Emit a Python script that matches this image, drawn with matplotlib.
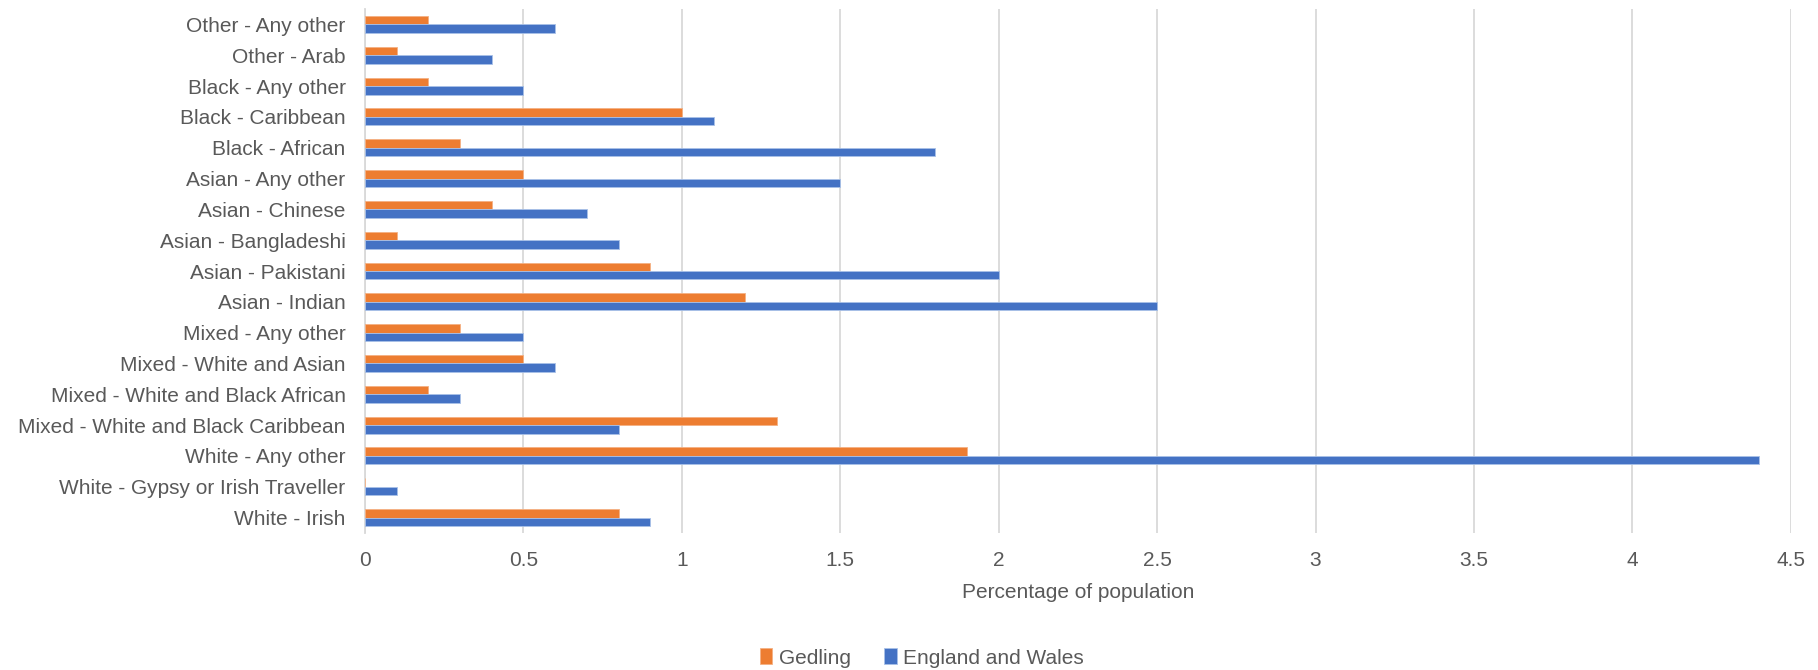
import matplotlib
matplotlib.use("Agg")
import matplotlib.pyplot as plt
import numpy as np

categories = [
    "White - Irish",
    "White - Gypsy or Irish Traveller",
    "White - Any other",
    "Mixed - White and Black Caribbean",
    "Mixed - White and Black African",
    "Mixed - White and Asian",
    "Mixed - Any other",
    "Asian - Indian",
    "Asian - Pakistani",
    "Asian - Bangladeshi",
    "Asian - Chinese",
    "Asian - Any other",
    "Black - African",
    "Black - Caribbean",
    "Black - Any other",
    "Other - Arab",
    "Other - Any other",
]
gedling = [0.8, 0.0, 1.9, 1.3, 0.2, 0.5, 0.3, 1.2, 0.9, 0.1, 0.4, 0.5, 0.3, 1.0, 0.2, 0.1, 0.2]
england_wales = [0.9, 0.1, 4.4, 0.8, 0.3, 0.6, 0.5, 2.5, 2.0, 0.8, 0.7, 1.5, 1.8, 1.1, 0.5, 0.4, 0.6]
xticks = [0, 0.5, 1, 1.5, 2, 2.5, 3, 3.5, 4, 4.5]
xtick_labels = ["0", "0.5", "1", "1.5", "2", "2.5", "3", "3.5", "4", "4.5"]

plt.rcParams['font.family'] = ['Liberation Sans', 'DejaVu Sans']
TXT = "#595959"
FS = 15

fig = plt.figure(figsize=(18.18, 6.70), dpi=100)
ax = fig.add_axes([0.2008, 0.2045, 0.7842, 0.782])

y = np.arange(len(categories))
h = 0.275
ax.barh(y + h / 2, gedling, height=h, color="#ED7D31", edgecolor="#F4B183", linewidth=0.6, label="Gedling", zorder=3)
ax.barh(y - h / 2, england_wales, height=h, color="#4472C4", edgecolor="#A9C1E8", linewidth=0.6, label="England and Wales", zorder=3)

ax.set_xlim(0, 4.5)
ax.set_ylim(-0.5, len(categories) - 0.5)
ax.set_xticks(xticks)
ax.set_xticklabels(xtick_labels)
ax.set_yticks(y)
ax.set_yticklabels(categories)
ax.tick_params(axis="both", length=0, colors=TXT, labelsize=FS)
ax.tick_params(axis="x", pad=13)
ax.tick_params(axis="y", pad=14)
ax.grid(axis="x", color="#D9D9D9", linewidth=1.3, zorder=0)
for s in ["top", "right", "bottom"]:
    ax.spines[s].set_visible(False)
ax.spines["left"].set_color("#D9D9D9")
ax.spines["left"].set_linewidth(1.3)
ax.set_xlabel("Percentage of population", color=TXT, fontsize=FS, labelpad=9)

handles, labels = ax.get_legend_handles_labels()
fig.legend(handles, labels, loc="center", bbox_to_anchor=(0.507, 0.018), ncol=2, frameon=False,
           fontsize=FS, labelcolor=TXT, handlelength=0.6, handleheight=0.8, handletextpad=0.3,
           columnspacing=1.6)

fig.savefig("out.png", dpi=100)
